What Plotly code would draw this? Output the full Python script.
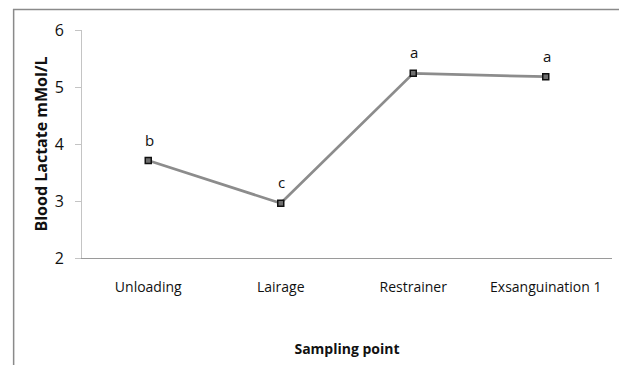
import plotly.graph_objects as go

categories = ["Unloading", "Lairage", "Restrainer", "Exsanguination 1"]
lactate = [3.71, 2.96, 5.24, 5.18]
letters = ["b", "c", "a", "a"]
y_ticks = [2, 3, 4, 5, 6]

FONT = "Open Sans"
TXT = "#111"

fig = go.Figure()
fig.add_trace(go.Scatter(
    x=categories, y=lactate, mode="lines+markers",
    line=dict(color="#8c8c8c", width=2.75),
    marker=dict(symbol="square", size=6, color="#6e6e6e", line=dict(color="#111", width=1.5)),
    cliponaxis=False, showlegend=False,
))

annotations = [
    dict(x=c, y=v, text=t, showarrow=False, yshift=21, xshift=1,
         font=dict(family=FONT, size=15, color=TXT))
    for c, v, t in zip(categories, lactate, letters)
]

fig.update_layout(
    width=627, height=365,
    margin=dict(l=74, r=23, t=22, b=115),
    paper_bgcolor="white", plot_bgcolor="white",
    font=dict(family=FONT, size=13, color=TXT),
    annotations=annotations,
    xaxis=dict(
        type="category", showgrid=False, showline=True, linecolor="#9a9a9a", linewidth=1,
        ticks="", ticklabelstandoff=16, tickfont=dict(family=FONT, size=14, color=TXT),
        title=dict(text="<b>Sampling point</b>", font=dict(family=FONT, size=14, color=TXT), standoff=49),
        range=[-0.5, 3.5],
    ),
    yaxis=dict(
        range=[2, 6], tickvals=y_ticks, showgrid=False, showline=True, linecolor="#c4c4c4", linewidth=1,
        ticks="outside", ticklen=6, tickcolor="#c4c4c4", ticklabelstandoff=8,
        tickfont=dict(family=FONT, size=16, color=TXT),
        title=dict(text="<b>Blood Lactate mMol/L</b>", font=dict(family=FONT, size=16, color=TXT), standoff=3),
        zeroline=False,
    ),
    shapes=[dict(type="rect", xref="paper", yref="paper", x0=-0.129, x1=1.2, y0=-0.6, y1=1.0899,
                 line=dict(color="#8a8a8a", width=1.5), fillcolor="rgba(0,0,0,0)", layer="below")],
)

fig.write_html("out.html")
